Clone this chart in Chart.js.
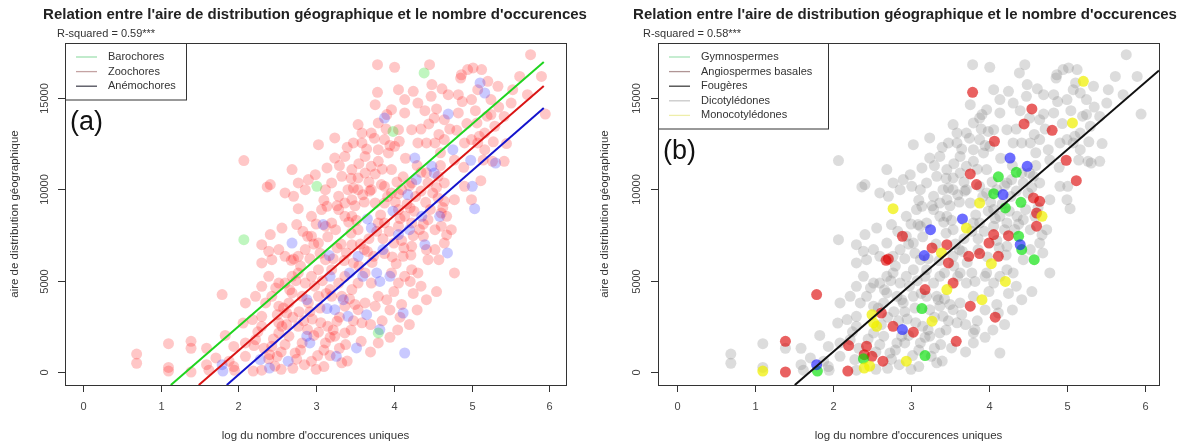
<!DOCTYPE html>
<html>
<head>
<meta charset="utf-8">
<script src="https://cdn.jsdelivr.net/npm/chart.js@4/dist/chart.umd.min.js"></script>
<style>
  body { margin: 0; background: #fff; }
  #wrap { position: relative; width: 1179px; height: 445px; }
  canvas { position: absolute; top: 0; }
  #panA { left: 0; }
  #panB { left: 590px; }
</style>
</head>
<body>
<div id="wrap">
  <canvas id="panA" width="590" height="445"></canvas>
  <canvas id="panB" width="589" height="445"></canvas>
</div>
<script>
// log du nombre d'occurences uniques (une espèce par position)
const logOcc = [
  0.69,0.69,1.10,1.10,1.10,1.39,1.39,1.39,1.59,1.59,
  1.62,1.79,1.80,1.79,1.95,1.83,1.94,1.94,2.19,2.20,
  2.09,2.09,2.07,2.07,2.22,2.06,2.30,2.18,2.43,2.40,
  2.39,2.50,2.40,2.47,2.64,2.28,2.50,2.52,2.56,2.62,
  2.77,2.89,2.88,2.92,2.94,3.03,2.73,2.82,2.65,2.52,
  2.35,2.22,2.09,2.30,2.39,2.52,2.43,2.65,2.69,2.82,
  2.90,2.30,2.52,2.71,2.68,2.77,2.89,2.69,2.60,2.77,
  2.86,2.60,2.43,2.30,2.52,2.30,2.39,2.41,2.56,2.69,
  2.75,2.86,2.77,2.41,2.37,2.60,2.71,2.86,2.69,2.77,
  2.90,2.99,3.03,3.01,3.14,3.24,3.24,3.37,3.48,3.59,
  3.71,3.59,3.54,3.63,3.46,3.33,3.20,3.12,3.07,3.14,
  2.94,3.29,3.41,3.48,3.54,3.63,3.71,3.54,3.37,3.46,
  3.60,3.29,3.37,3.46,3.20,3.12,3.09,3.25,3.17,3.27,
  3.39,3.46,3.48,3.54,3.46,3.18,3.14,3.24,3.27,3.18,
  3.26,3.52,3.58,3.37,3.24,3.12,3.41,3.37,3.35,3.54,
  3.65,3.63,3.80,3.76,3.91,4.08,4.14,3.82,3.80,3.80,
  3.59,4.12,4.42,3.03,3.20,3.33,2.88,2.94,3.03,3.12,
  3.20,3.29,3.37,3.18,3.43,3.60,3.63,3.71,3.78,3.82,
  3.95,3.97,4.06,4.21,4.14,4.23,4.31,4.44,4.53,4.58,
  4.69,4.78,4.74,4.65,4.40,4.38,4.42,4.25,4.06,4.00,
  4.12,3.88,3.74,3.54,4.03,3.86,3.66,3.71,4.20,4.06,
  3.88,3.80,3.54,3.99,3.88,3.76,4.06,4.14,4.21,4.23,
  4.36,4.41,4.44,4.53,4.59,4.57,4.65,4.61,4.68,4.61,
  4.18,4.06,4.12,4.35,4.27,4.49,4.52,4.29,3.76,3.84,
  4.07,3.99,3.88,3.79,3.79,4.01,4.46,4.39,4.49,4.87,
  5.02,5.13,5.21,5.62,5.90,5.76,5.17,5.11,5.25,5.25,
  5.53,5.72,5.95,4.55,4.45,4.81,5.07,4.99,5.12,4.70,
  4.76,5.31,5.01,5.04,3.76,4.06,4.25,4.70,4.83,4.86,
  3.80,3.91,4.14,4.31,4.48,3.93,4.01,3.80,3.88,4.06,
  4.23,4.31,4.42,4.53,4.65,4.91,5.00,5.17,5.27,5.42,
  4.91,5.00,4.78,4.65,4.57,4.44,4.23,4.10,3.88,3.97,
  3.80,3.97,3.97,4.14,4.65,4.83,5.00,5.30,5.42,5.51,
  5.17,5.34,4.95,4.23,3.71,3.03,2.94,1.88,1.71,5.08,
  5.08,2.70,2.85,3.00,3.10,2.95,3.15,3.30,3.45,2.60,
  2.78,3.05,3.40,2.30,2.55,3.95,4.05,3.70,4.25,
  2.45,2.55,2.62,2.70,2.75,2.80,2.84,2.92,2.97,3.02,
  3.06,3.10,3.13,3.18,3.22,3.30,3.33,3.38,3.43,3.48,
  3.50,2.58,2.66,2.74,2.98,3.08,2.48,2.33,2.25,3.55,
  3.62,3.68,3.72,3.78,3.83,3.86,3.92,3.94,3.98,4.02,
  4.04,4.08,4.10,4.13,4.17,4.20,4.22,4.26,4.28,4.33,
  4.35,4.38,4.42,4.47,4.50,4.55,4.60,4.63,4.68,2.80,
  2.83,2.92,2.97,3.00,3.05,3.10,3.15,3.22,3.27,3.32,
  3.36,3.42,3.45,3.50,3.52,3.57,3.62,3.66,3.69,4.35,
  4.40,4.52,4.58,4.62,4.72,4.78,4.88,4.94,5.05,5.10,
  5.15,5.20,5.28,5.35,5.45,4.90,4.60,4.30,4.15,3.30,
  3.40,3.45,3.55,3.65,3.68,3.75,3.85,3.90,3.95,3.70,
  3.85,3.95,4.00,4.10,4.20,4.30,4.35,4.55
];

// aire de distribution géographique
const aire = [
  980,480,1550,50,250,1680,0,1300,1300,400,
  100,400,50,4240,90,2000,1400,300,50,1450,
  860,1590,7240,11570,1770,2680,2500,2870,1410,950,
  720,860,220,320,590,680,3140,2690,2500,3230,
  2500,2320,1960,1590,590,2180,1040,1590,1960,2140,
  3780,4140,3780,4690,5240,4870,4140,3780,4330,4140,
  3780,3050,3600,6190,6110,8940,7430,5240,4870,5420,
  4870,6330,6150,5970,6700,6970,6610,7520,7880,7060,
  8070,6700,6330,10260,10130,9800,9620,9980,11080,10350,
  10530,10800,12440,10160,11170,11710,12810,11800,12540,13080,
  13080,12540,13540,11800,11080,10710,10350,9980,8890,9070,
  8520,9620,9980,10070,10620,10890,11260,9980,9250,9430,
  9700,8890,8520,8520,8160,7980,8070,7790,6370,6790,
  6520,6970,5970,4870,4510,4510,3470,3410,2780,900,
  860,1320,1680,2140,1960,1590,3050,3600,3960,3410,
  3140,3780,4140,3600,3960,3000,1040,2320,2140,1590,
  2690,3230,3960,4140,4140,4140,3960,5240,5600,6150,
  5600,4870,5240,5240,5420,5240,5420,4870,5420,4960,
  5240,5420,4870,4960,5240,5600,5420,6150,6700,6150,
  6520,5420,7790,7060,6970,7430,6700,7460,7520,7060,
  6330,6480,6330,6330,5930,6700,8380,7880,7790,7980,
  8160,8160,7790,8800,9250,9250,8890,8520,8980,8160,
  8520,9290,8340,7790,8520,9530,9340,8700,8520,7980,
  9710,9760,10680,10930,11710,11260,10890,10530,10840,10260,
  12630,13170,13900,15310,16820,16680,16820,16370,15730,16270,
  16640,16550,15910,16180,16180,17370,15270,15820,14910,14090,
  15450,15180,14120,14400,13580,13230,13630,11590,10470,14120,
  12170,11440,10160,8940,14630,15450,15360,15180,15180,16090,
  13630,14090,14180,14720,15090,11990,12350,12170,12720,13260,
  13260,12540,12540,12540,12720,12540,12720,12170,11530,11530,
  10160,9430,9430,10350,10710,10350,10350,9980,10160,9800,
  11530,11080,14360,14910,13810,14180,14910,13450,13990,14720,
  13080,15640,16550,6880,9980,7060,7430,590,770,12540,
  15450,200,400,150,1200,2900,2500,1300,2300,1500,
  3300,3500,600,100,150,3400,2300,2600,4300,
  1800,1100,2600,3000,700,1200,2800,3300,2000,900,
  2700,300,4300,1900,2300,3000,500,1500,4000,2800,
  3700,3500,4500,5000,4700,5000,4600,1300,2200,5800,
  6700,7300,6000,7700,8600,7300,9600,7700,6300,9300,
  10400,8400,7200,6800,9200,10200,6400,8800,9600,7800,
  9900,8100,10900,8900,9800,10100,11300,9000,7500,5800,
  7700,6200,7000,8100,6500,9400,7400,6200,9100,7000,
  6100,8200,7600,9100,8300,7000,9300,6600,9900,13300,
  14300,13900,13000,15500,13300,11600,14800,13600,14300,12900,
  11600,14000,12600,14500,12500,11200,12000,11300,11700,11300,
  12300,10600,11400,12200,10400,12800,11100,13300,12400,1100,
  2800,1900,4400,3700,2600,3400,4700,4400
];

// (a) mode de dispersion : Z = Zoochores, A = Anémochores, B = Barochores
// (les positions non listées sont des Zoochores)
const dispersion = [
  "Z","Z","Z","Z","Z","Z","Z","Z","Z","Z",
  "Z","A","A","Z","Z","Z","Z","Z","Z","Z",
  "Z","Z","B","Z","Z","Z","Z","Z","Z","Z",
  "Z","Z","A","Z","A","A","Z","Z","Z","Z",
  "Z","Z","A","A","Z","Z","Z","Z","Z","Z",
  "Z","Z","Z","Z","Z","Z","Z","Z","Z","Z",
  "Z","Z","Z","Z","Z","Z","Z","Z","Z","Z",
  "Z","Z","Z","Z","Z","Z","Z","Z","Z","A",
  "Z","Z","Z","Z","Z","Z","Z","Z","Z","Z",
  "Z","Z","Z","B","Z","Z","Z","Z","Z","Z",
  "Z","Z","Z","Z","Z","Z","Z","Z","Z","Z",
  "Z","Z","Z","Z","Z","Z","Z","Z","Z","Z",
  "Z","Z","Z","Z","Z","Z","A","Z","A","Z",
  "Z","Z","Z","Z","Z","Z","A","A","Z","Z",
  "A","A","Z","Z","Z","Z","A","Z","A","Z",
  "A","Z","Z","Z","Z","Z","A","A","B","Z",
  "Z","A","Z","Z","Z","Z","A","Z","Z","Z",
  "Z","Z","Z","A","A","A","Z","Z","A","A",
  "A","Z","Z","Z","Z","Z","Z","Z","Z","Z",
  "A","Z","Z","Z","A","Z","Z","Z","A","Z",
  "Z","Z","Z","A","Z","A","A","A","A","Z",
  "Z","Z","Z","A","Z","Z","Z","Z","Z","Z",
  "A","Z","Z","Z","A","Z","Z","Z","Z","Z",
  "A","Z","Z","Z","A","A","A","A","Z","Z",
  "Z","B","A","Z","Z","Z","Z","B","Z","Z",
  "Z","Z","Z","Z","Z","Z","A","A","Z","Z",
  "Z","Z","Z","Z","Z","Z","Z","A","Z","A",
  "A","A","A","A","Z","Z","Z","Z","Z","Z"
];

// (b) groupe : D = Dicotylédones, R = Angiospermes basales, G = Gymnospermes,
// F = Fougères, M = Monocotylédones (les positions non listées sont des Dicotylédones)
const groupe = [
  "D","D","D","M","D","R","R","D","D","D",
  "D","F","G","R","D","D","D","D","R","R",
  "D","D","D","D","D","D","D","D","R","R",
  "G","R","M","M","R","D","M","M","M","R",
  "R","F","D","D","M","R","D","D","D","D",
  "D","D","D","D","D","D","D","D","D","D",
  "D","D","D","R","R","M","R","D","D","D",
  "D","D","D","D","D","D","D","D","D","D",
  "D","D","D","D","D","D","D","D","D","D",
  "D","D","D","D","D","D","D","D","D","D",
  "D","D","D","D","D","D","D","D","D","D",
  "D","D","D","D","D","D","D","D","D","D",
  "D","D","D","D","D","D","D","F","F","R",
  "M","R","R","R","M","R","G","D","M","G",
  "D","D","R","D","D","D","D","D","D","D",
  "D","D","D","R","M","R","D","D","D","D",
  "D","D","D","D","D","D","D","D","D","D",
  "D","D","D","D","D","D","D","D","D","D",
  "D","D","D","M","D","D","D","D","D","G",
  "D","D","D","D","F","G","G","R","R","R",
  "R","R","R","D","M","D","F","M","D","D",
  "D","D","D","D","M","D","D","D","G","D",
  "D","G","D","D","D","R","R","R","M","R",
  "F","G","G","G","F","F","D","D","R","R",
  "R","D","D","R","D","D","D","D","D","D",
  "D","D","M","D","D","D","D","D","D","D",
  "D","D","D","R","R","R","M","R","R","D"
];

// droites de régression (extrémités dans le cadre)
const xDroiteBaro = [1.13, 5.93], yDroiteBaro = [-711, 16970];
const xDroiteZoo = [1.49, 5.93], yDroiteZoo = [-711, 15650];
const xDroiteAnemo = [1.85, 5.93], yDroiteAnemo = [-711, 14450];
const xDroiteTout = [1.51, 6.18], yDroiteTout = [-711, 16500];

const graduationsX = [0, 1, 2, 3, 4, 5, 6];
const graduationsY = [0, 5000, 10000, 15000];

const titre = "Relation entre l'aire de distribution géographique et le nombre d'occurences";
const titreX = "log du nombre d'occurences uniques";
const titreY = "aire de distribution géographique";

const FONTE = '"Liberation Sans", Arial, sans-serif';

function nuage(codes, code, defaut) {
  const pts = [];
  logOcc.forEach((v, i) => {
    if ((codes[i] || defaut) === code) pts.push({ x: v, y: aire[i] });
  });
  return pts;
}

function droite(xs, ys) {
  return xs.map((v, i) => ({ x: v, y: ys[i] }));
}

function points(data, couleur) {
  return {
    type: "scatter",
    data: data,
    backgroundColor: couleur,
    borderWidth: 0,
    pointRadius: 5.5,
    pointHoverRadius: 5.5
  };
}

function ligne(data, couleur) {
  return {
    type: "line",
    data: data,
    borderColor: couleur,
    borderWidth: 2,
    pointRadius: 0,
    fill: false,
    tension: 0
  };
}

// cadre, axes et textes façon graphique R
const decorR = {
  id: "decorR",
  afterDatasetsDraw(chart, args, o) {
    const { ctx, chartArea: a, scales: { x, y } } = chart;
    ctx.save();

    ctx.strokeStyle = "#333";
    ctx.lineWidth = 1;
    ctx.strokeRect(a.left + 0.5, a.top + 0.5, a.right - a.left, a.bottom - a.top);

    ctx.fillStyle = "#444";
    ctx.font = "11px " + FONTE;
    ctx.textAlign = "center";
    ctx.textBaseline = "middle";
    graduationsX.forEach(v => {
      const px = Math.round(x.getPixelForValue(v)) + 0.5;
      ctx.beginPath();
      ctx.moveTo(px, a.bottom);
      ctx.lineTo(px, a.bottom + 7);
      ctx.stroke();
      ctx.fillText(String(v), px, a.bottom + 22);
    });
    graduationsY.forEach(v => {
      const py = Math.round(y.getPixelForValue(v)) + 0.5;
      ctx.beginPath();
      ctx.moveTo(a.left - 7, py);
      ctx.lineTo(a.left, py);
      ctx.stroke();
      ctx.save();
      ctx.translate(a.left - o.decalY, py);
      ctx.rotate(-Math.PI / 2);
      ctx.fillText(String(v), 0, 0);
      ctx.restore();
    });

    ctx.fillStyle = "#333";
    ctx.font = "11.5px " + FONTE;
    ctx.fillText(titreX, (a.left + a.right) / 2, a.bottom + 51);
    ctx.save();
    ctx.translate(a.left - o.decalTitreY, (a.top + a.bottom) / 2);
    ctx.rotate(-Math.PI / 2);
    ctx.fillText(titreY, 0, 0);
    ctx.restore();

    ctx.fillStyle = "#222";
    ctx.font = "bold 15px " + FONTE;
    ctx.fillText(titre, o.titreX, 15);

    ctx.textAlign = "left";
    ctx.fillStyle = "#333";
    ctx.font = "11px " + FONTE;
    ctx.fillText(o.r2, a.left - o.decalR2, 34);

    // légende
    const n = o.legende.length;
    ctx.fillStyle = "#fff";
    ctx.fillRect(a.left, a.top, o.largeurLegende, 14 * n + 15);
    ctx.strokeStyle = "#333";
    ctx.strokeRect(a.left + 0.5, a.top + 0.5, o.largeurLegende, 14.5 * n + 13);
    o.legende.forEach((nom, i) => {
      const ly = a.top + 14 + i * 14.6;
      ctx.strokeStyle = o.couleursLegende[i];
      ctx.lineWidth = 1.3;
      ctx.beginPath();
      ctx.moveTo(a.left + 11, ly);
      ctx.lineTo(a.left + 32, ly);
      ctx.stroke();
      ctx.fillStyle = "#333";
      ctx.fillText(nom, a.left + 43, ly);
    });

    ctx.fillStyle = "#111";
    ctx.font = "27px " + FONTE;
    ctx.fillText(o.etiquette, a.left + 5, a.top + 14.6 * n + 36);

    ctx.restore();
  }
};

Chart.register(decorR);

function options(xmin, xmax, padG, padD, deco) {
  return {
    responsive: false,
    animation: false,
    devicePixelRatio: 1,
    layout: { padding: { left: padG, right: padD, top: 43, bottom: 60 } },
    scales: {
      x: { type: "linear", min: xmin, max: xmax, display: false },
      y: { type: "linear", min: -711, max: 18007, display: false }
    },
    plugins: {
      legend: { display: false },
      tooltip: { enabled: false },
      decorR: deco
    }
  };
}

new Chart(document.getElementById("panA"), {
  type: "scatter",
  data: {
    datasets: [
      ligne(droite(xDroiteBaro, yDroiteBaro), "#1fd41f"),
      ligne(droite(xDroiteZoo, yDroiteZoo), "#d91414"),
      ligne(droite(xDroiteAnemo, yDroiteAnemo), "#1414cc"),
      points(nuage(dispersion, "B", "Z"), "rgba(0,220,0,0.25)"),
      points(nuage(dispersion, "A", "Z"), "rgba(30,30,255,0.24)"),
      points(nuage(dispersion, "Z", "Z"), "rgba(255,0,0,0.22)")
    ]
  },
  options: options(-0.232, 6.216, 65, 24, {
    titreX: 315,
    r2: "R-squared = 0.59***",
    decalR2: 8,
    decalY: 20,
    decalTitreY: 50,
    largeurLegende: 121,
    legende: ["Barochores", "Zoochores", "Anémochores"],
    couleursLegende: ["#9fe0b0", "#c4a3a3", "#4a4a55"],
    etiquette: "(a)"
  })
});

new Chart(document.getElementById("panB"), {
  type: "scatter",
  data: {
    datasets: [
      ligne(droite(xDroiteTout, yDroiteTout), "#111111"),
      points(nuage(groupe, "M", "D"), "rgba(240,240,0,0.72)"),
      points(nuage(groupe, "F", "D"), "rgba(20,20,255,0.62)"),
      points(nuage(groupe, "G", "D"), "rgba(0,225,0,0.65)"),
      points(nuage(groupe, "R", "D"), "rgba(220,0,0,0.62)"),
      points(nuage(groupe, "D", "D"), "rgba(120,120,120,0.26)")
    ]
  },
  options: options(-0.244, 6.18, 68, 20, {
    titreX: 315,
    r2: "R-squared = 0.58***",
    decalR2: 15,
    decalY: 21,
    decalTitreY: 53,
    largeurLegende: 170,
    legende: ["Gymnospermes", "Angiospermes basales", "Fougères", "Dicotylédones", "Monocotylédones"],
    couleursLegende: ["#a8e4b8", "#b09595", "#404040", "#c8c8c8", "#eeeeaa"],
    etiquette: "(b)"
  })
});
</script>
</body>
</html>
